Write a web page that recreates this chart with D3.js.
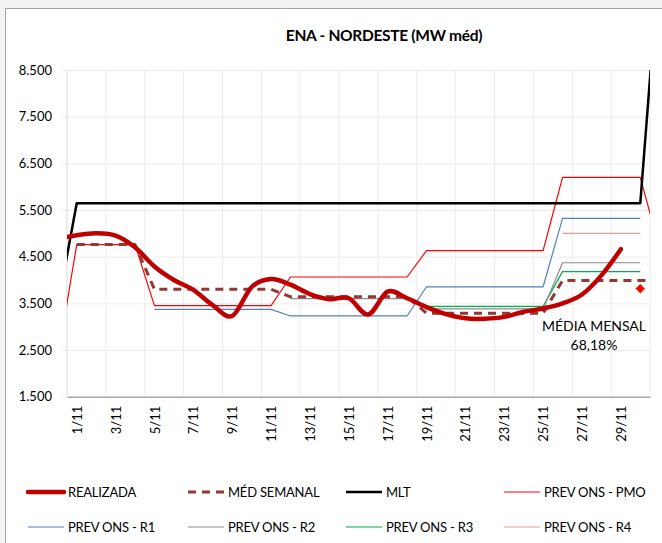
<!DOCTYPE html>
<html>
<head>
<meta charset="utf-8">
<script src="https://cdn.jsdelivr.net/npm/d3@7"></script>
<style>
  body { margin: 0; background: #f3f3f3; }
  svg { display: block; font-family: Lato, "Open Sans", sans-serif; }
</style>
</head>
<body>
<div id="chart"></div>
<script>
"use strict";

// index 0 = 31/10 and index 31 = 1/12 (drawn outside the plot, clipped)
var days = ["31/10", "1/11", "2/11", "3/11", "4/11", "5/11", "6/11", "7/11", "8/11", "9/11", "10/11",
    "11/11", "12/11", "13/11", "14/11", "15/11", "16/11", "17/11", "18/11", "19/11", "20/11",
    "21/11", "22/11", "23/11", "24/11", "25/11", "26/11", "27/11", "28/11", "29/11", "30/11", "1/12"];

var realizada = [4880, 4960, 5000, 4950, 4700, 4290, 4000, 3790, 3460, 3230, 3850,
    4020, 3900, 3700, 3590, 3610, 3260, 3750, 3610, 3420, 3270,
    3180, 3170, 3210, 3320, 3390, 3500, 3690, 4100, 4660, null, null];

var medSemanal = [null, 4760, 4760, 4760, 4760, 3800, 3800, 3800, 3800, 3800, 3800,
    3800, 3640, 3640, 3640, 3640, 3640, 3640, 3640, 3290, 3290,
    3290, 3290, 3290, 3290, 3290, 3990, 3990, 3990, 3990, 3990, 3990];

var mlt = [3390, 5645, 5645, 5645, 5645, 5645, 5645, 5645, 5645, 5645, 5645,
    5645, 5645, 5645, 5645, 5645, 5645, 5645, 5645, 5645, 5645,
    5645, 5645, 5645, 5645, 5645, 5645, 5645, 5645, 5645, 5645, 11000];

var prevPmo = [2250, 4760, 4760, 4760, 4760, 3450, 3450, 3450, 3450, 3450, 3450,
    3450, 4065, 4065, 4065, 4065, 4065, 4065, 4065, 4630, 4630,
    4630, 4630, 4630, 4630, 4630, 6200, 6200, 6200, 6200, 6200, 4660];

var prevR1 = [null, null, null, null, null, 3370, 3370, 3370, 3370, 3370, 3370,
    3370, 3230, 3230, 3230, 3230, 3230, 3230, 3230, 3855, 3855,
    3855, 3855, 3855, 3855, 3855, 5320, 5320, 5320, 5320, 5320, null];

var prevR2 = [null, null, null, null, null, null, null, null, null, null, null,
    null, 3600, 3600, 3600, 3600, 3600, 3600, 3600, 3380, 3380,
    3380, 3380, 3380, 3380, 3380, 4370, 4370, 4370, 4370, 4370, null];

var prevR3 = [null, null, null, null, null, null, null, null, null, null, null,
    null, null, null, null, null, null, null, null, 3435, 3435,
    3435, 3435, 3435, 3435, 3435, 4180, 4180, 4180, 4180, 4180, null];

var prevR4 = [null, null, null, null, null, null, null, null, null, null, null,
    null, null, null, null, null, null, null, null, null, null,
    null, null, null, null, null, 5000, 5000, 5000, 5000, 5000, null];

var mediaMensal = { day: 30, value: 3815, label: ["MÉDIA MENSAL", "68,18%"] };

var yTicks = [1500, 2500, 3500, 4500, 5500, 6500, 7500, 8500];

var width = 662, height = 543;
var plot = { left: 67, right: 650, top: 70, bottom: 396.7 };

var series = [
    { name: "REALIZADA", values: realizada, colour: "#c00000", w: 4.5, curve: d3.curveCardinal.tension(0), row: 0, col: 0 },
    { name: "MÉD SEMANAL", values: medSemanal, colour: "#953735", w: 3, dash: "8,6", row: 0, col: 1 },
    { name: "MLT", values: mlt, colour: "#000000", w: 2.5, row: 0, col: 2 },
    { name: "PREV ONS - PMO", values: prevPmo, colour: "#ff0000", w: 1.2, row: 0, col: 3 },
    { name: "PREV ONS - R1", values: prevR1, colour: "#4f81bd", w: 1.2, row: 1, col: 0 },
    { name: "PREV ONS - R2", values: prevR2, colour: "#8c8c8c", w: 1.2, row: 1, col: 1 },
    { name: "PREV ONS - R3", values: prevR3, colour: "#00b050", w: 1.2, row: 1, col: 2 },
    { name: "PREV ONS - R4", values: prevR4, colour: "#f09a98", w: 1.2, row: 1, col: 3 }
];

var locale = d3.formatLocale({ decimal: ",", thousands: ".", grouping: [3], currency: ["", ""] });
var fmt = locale.format(",d");

var x = d3.scaleLinear().domain([0.5, 30.5]).range([plot.left, plot.right]);
var y = d3.scaleLinear().domain([1500, 8500]).range([plot.bottom, plot.top]);

var svg = d3.select("#chart").append("svg")
    .attr("width", width)
    .attr("height", height);

// chart frame
svg.append("rect")
    .attr("x", 5.5).attr("y", 8.5)
    .attr("width", 700).attr("height", 600)
    .attr("fill", "#fff")
    .attr("stroke", "#a6a6a6");

svg.append("text")
    .attr("x", 384).attr("y", 41)
    .attr("text-anchor", "middle")
    .style("font-size", "15.5px")
    .style("font-weight", "bold")
    .style("letter-spacing", "-0.3px")
    .text("ENA - NORDESTE (MW méd)");

// gridlines
var vgrid = d3.range(2.5, 31, 2);
svg.append("g").selectAll("line")
    .data(vgrid).enter().append("line")
    .attr("x1", function (d) { return x(d); })
    .attr("x2", function (d) { return x(d); })
    .attr("y1", plot.top).attr("y2", plot.bottom)
    .attr("stroke", "#ececec");

var yAxis = d3.axisLeft(y).tickValues(yTicks).tickFormat(fmt)
    .tickSize(-(plot.right - plot.left + 5)).tickPadding(10);
var gy = svg.append("g")
    .attr("transform", "translate(" + (plot.left - 5) + ",0)")
    .call(yAxis);
gy.select(".domain").remove();
gy.selectAll(".tick line").attr("stroke", "#ececec");
gy.selectAll(".tick text")
    .style("font-size", "13px")
    .style("font-family", "Lato, sans-serif")
    .attr("fill", "#000");

svg.append("line")
    .attr("x1", plot.left).attr("x2", plot.left)
    .attr("y1", plot.top).attr("y2", plot.bottom)
    .attr("stroke", "#d9d9d9");

// x axis
var xTicks = d3.range(1, 31, 2);
var xAxis = d3.axisBottom(x).tickValues(xTicks)
    .tickFormat(function (d) { return days[d]; })
    .tickSize(0).tickPadding(0);
var gx = svg.append("g")
    .attr("transform", "translate(0," + plot.bottom + ")")
    .call(xAxis);
gx.select(".domain").attr("stroke", "#868686");
gx.selectAll(".tick text")
    .attr("transform", "rotate(-90)")
    .attr("x", -9).attr("y", 0).attr("dy", "0.35em")
    .attr("text-anchor", "end")
    .attr("fill", "#000")
    .style("font-size", "13px")
    .style("font-family", "Lato, sans-serif");

// clip lines to plot area
svg.append("clipPath").attr("id", "clip")
    .append("rect")
    .attr("x", plot.left).attr("y", plot.top)
    .attr("width", plot.right - plot.left)
    .attr("height", plot.bottom - plot.top);

var drawOrder = [7, 6, 5, 4, 3, 2, 1, 0];
var lines = svg.append("g").attr("clip-path", "url(#clip)");
drawOrder.forEach(function (k) {
    var s = series[k];
    var line = d3.line()
        .defined(function (d) { return d != null; })
        .x(function (d, i) { return x(i); })
        .y(function (d) { return y(d); })
        .curve(s.curve || d3.curveLinear);
    lines.append("path")
        .datum(s.values)
        .attr("d", line)
        .attr("fill", "none")
        .attr("stroke", s.colour)
        .attr("stroke-width", s.w)
        .attr("stroke-dasharray", s.dash || null)
        .attr("stroke-linecap", k === 0 ? "round" : "butt")
        .attr("stroke-linejoin", "round");
});

// monthly average marker
var mx = x(mediaMensal.day), my = y(mediaMensal.value);
svg.append("path")
    .attr("d", d3.symbol().type(d3.symbolDiamond2).size(60))
    .attr("transform", "translate(" + mx + "," + my + ")")
    .attr("fill", "#ff0000")
    .attr("stroke", "#c4bd97")
    .attr("stroke-width", 1);

svg.append("text")
    .attr("x", 594).attr("y", 331)
    .attr("text-anchor", "middle")
    .style("font-size", "14px")
    .selectAll("tspan")
    .data(mediaMensal.label).enter().append("tspan")
    .attr("x", 594)
    .attr("dy", function (d, i) { return i ? 19 : 0; })
    .text(function (d) { return d; });

// legend
var colX = [26, 186, 344, 502];
var rowY = [492, 527];
var legend = svg.append("g").attr("class", "legend");
series.forEach(function (s) {
    var gx0 = colX[s.col], gy0 = rowY[s.row];
    var g = legend.append("g").attr("transform", "translate(" + gx0 + "," + gy0 + ")");
    g.append("line")
        .attr("x1", 2).attr("x2", 38)
        .attr("y1", 0).attr("y2", 0)
        .attr("stroke", s.colour)
        .attr("stroke-width", s.w)
        .attr("stroke-dasharray", s.dash || null)
        .attr("stroke-linecap", s.col === 0 && s.row === 0 ? "round" : "butt");
    g.append("text")
        .attr("x", 42).attr("dy", "0.35em")
        .style("font-size", "13px")
        .style("letter-spacing", "-0.2px")
        .text(s.name);
});
</script>
</body>
</html>
